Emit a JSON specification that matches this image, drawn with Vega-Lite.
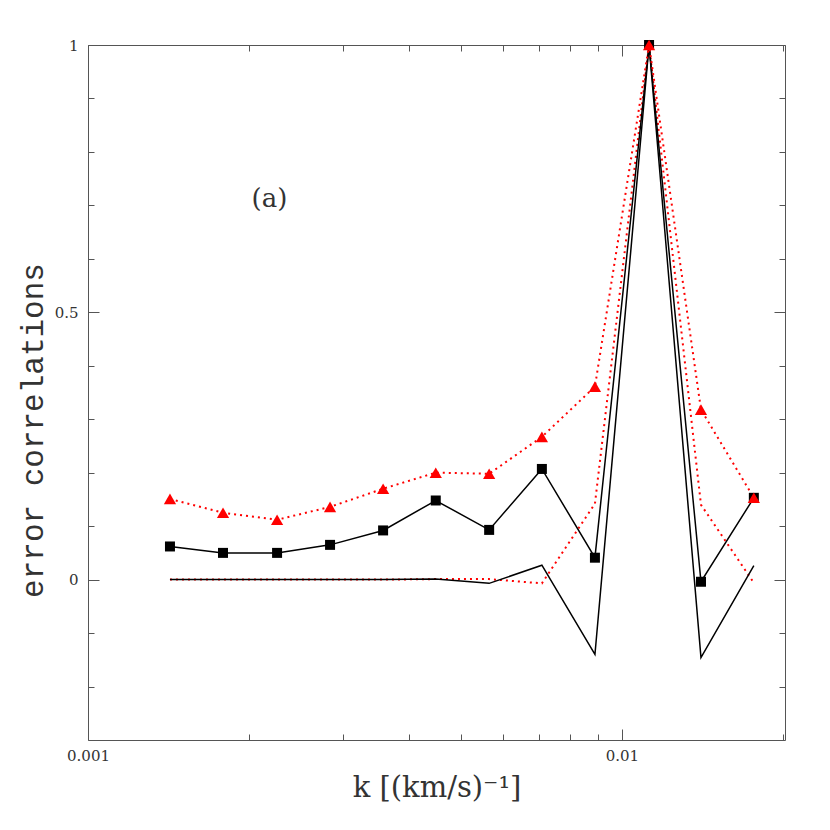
{
  "$schema": "https://vega.github.io/schema/vega-lite/v6.json",
  "width": 697,
  "height": 695,
  "autosize": {"type": "none"},
  "padding": {"left": 88, "top": 45, "right": 45, "bottom": 90},
  "background": "white",
  "config": {
    "view": {"stroke": "#555", "strokeWidth": 1},
    "axis": {
      "labelFont": "DejaVu Serif",
      "titleFont": "DejaVu Serif",
      "labelColor": "#333",
      "titleColor": "#333",
      "titleFontWeight": "normal",
      "tickColor": "#555",
      "tickWidth": 1,
      "domain": false,
      "grid": false,
      "labelFontSize": 15
    }
  },
  "datasets": {
    "d": [
      {"k": 0.001424, "v": 0.0, "s": "blk"},
      {"k": 0.00179, "v": 0.0, "s": "blk"},
      {"k": 0.00226, "v": 0.0, "s": "blk"},
      {"k": 0.00284, "v": 0.0, "s": "blk"},
      {"k": 0.00357, "v": 0.0, "s": "blk"},
      {"k": 0.00448, "v": 0.001, "s": "blk"},
      {"k": 0.00564, "v": -0.007, "s": "blk"},
      {"k": 0.00708, "v": 0.027, "s": "blk"},
      {"k": 0.0089, "v": -0.14, "s": "blk"},
      {"k": 0.01124, "v": 1.0, "s": "blk"},
      {"k": 0.01406, "v": -0.146, "s": "blk"},
      {"k": 0.01766, "v": 0.026, "s": "blk"},
      {"k": 0.001424, "v": 0.0, "s": "red"},
      {"k": 0.00179, "v": 0.0, "s": "red"},
      {"k": 0.00226, "v": 0.0, "s": "red"},
      {"k": 0.00284, "v": 0.0, "s": "red"},
      {"k": 0.00357, "v": 0.0, "s": "red"},
      {"k": 0.00448, "v": 0.001, "s": "red"},
      {"k": 0.00564, "v": 0.001, "s": "red"},
      {"k": 0.00708, "v": -0.007, "s": "red"},
      {"k": 0.0089, "v": 0.142, "s": "red"},
      {"k": 0.01124, "v": 1.0, "s": "red"},
      {"k": 0.01406, "v": 0.14, "s": "red"},
      {"k": 0.01766, "v": -0.006, "s": "red"},
      {"k": 0.001424, "v": 0.062, "s": "sq"},
      {"k": 0.00179, "v": 0.05, "s": "sq"},
      {"k": 0.00226, "v": 0.05, "s": "sq"},
      {"k": 0.00284, "v": 0.065, "s": "sq"},
      {"k": 0.00357, "v": 0.092, "s": "sq"},
      {"k": 0.00448, "v": 0.148, "s": "sq"},
      {"k": 0.00564, "v": 0.093, "s": "sq"},
      {"k": 0.00708, "v": 0.207, "s": "sq"},
      {"k": 0.0089, "v": 0.041, "s": "sq"},
      {"k": 0.01124, "v": 1.0, "s": "sq"},
      {"k": 0.01406, "v": -0.004, "s": "sq"},
      {"k": 0.01766, "v": 0.153, "s": "sq"},
      {"k": 0.001424, "v": 0.151, "s": "tri"},
      {"k": 0.00179, "v": 0.125, "s": "tri"},
      {"k": 0.00226, "v": 0.112, "s": "tri"},
      {"k": 0.00284, "v": 0.136, "s": "tri"},
      {"k": 0.00357, "v": 0.17, "s": "tri"},
      {"k": 0.00448, "v": 0.2, "s": "tri"},
      {"k": 0.00564, "v": 0.198, "s": "tri"},
      {"k": 0.00708, "v": 0.267, "s": "tri"},
      {"k": 0.0089, "v": 0.361, "s": "tri"},
      {"k": 0.01124, "v": 1.0, "s": "tri"},
      {"k": 0.01406, "v": 0.318, "s": "tri"},
      {"k": 0.01766, "v": 0.153, "s": "tri"}
    ]
  },
  "data": {"name": "d"},
  "resolve": {"axis": {"x": "independent", "y": "independent"}},
  "layer": [
    {
      "transform": [{"filter": "datum.s === 'red'"}],
      "mark": {"type": "line", "color": "#ff0000", "strokeWidth": 2, "strokeDash": [2, 4]},
      "encoding": {
        "x": {"field": "k", "type": "quantitative", "scale": {"type": "log", "domain": [0.001, 0.0202], "nice": false},
              "axis": {"orient": "bottom", "values": [0.001, 0.01], "format": "~g", "ticks": false, "tickSize": 0, "labelPadding": 8, "labelFlush": false, "labelFontSize": 15, "title": "k [(km/s)⁻¹]", "titleFontSize": 29, "titlePadding": 10}},
        "y": {"field": "v", "type": "quantitative", "scale": {"domain": [-0.3, 1], "nice": false, "zero": false},
              "axis": {"orient": "left", "values": [0, 0.5, 1], "format": "~g", "ticks": false, "tickSize": 0, "labelPadding": 10, "labelFlush": false, "labelFontSize": 15, "title": "error correlations", "titleFont": "Liberation Mono", "titleFontSize": 31, "titlePadding": 5, "titleY": 385}}
      }
    },
    {
      "transform": [{"filter": "datum.s === 'blk'"}],
      "mark": {"type": "line", "color": "#000000", "strokeWidth": 1.5},
      "encoding": {
        "x": {"field": "k", "type": "quantitative", "axis": {"orient": "bottom", "values": [0.001, 0.01], "tickSize": -11, "labels": false, "title": null}},
        "y": {"field": "v", "type": "quantitative", "axis": {"orient": "left", "values": [0, 0.5, 1], "tickSize": -11, "labels": false, "title": null}}
      }
    },
    {
      "transform": [{"filter": "datum.s === 'sq'"}],
      "mark": {"type": "line", "color": "#000000", "strokeWidth": 1.5},
      "encoding": {
        "x": {"field": "k", "type": "quantitative", "axis": {"orient": "bottom", "values": [0.002, 0.003, 0.004, 0.005, 0.006, 0.007, 0.008, 0.009, 0.02], "tickSize": -6, "labels": false, "title": null}},
        "y": {"field": "v", "type": "quantitative", "axis": {"orient": "left", "values": [-0.2, -0.1, 0.1, 0.2, 0.3, 0.4, 0.6, 0.7, 0.8, 0.9], "tickSize": -6, "labels": false, "title": null}}
      }
    },
    {
      "transform": [{"filter": "datum.s === 'tri'"}],
      "mark": {"type": "line", "color": "#ff0000", "strokeWidth": 2, "strokeDash": [2, 4]},
      "encoding": {
        "x": {"field": "k", "type": "quantitative", "axis": {"orient": "top", "values": [0.001, 0.01], "tickSize": -11, "labels": false, "title": null}},
        "y": {"field": "v", "type": "quantitative", "axis": {"orient": "right", "values": [0, 0.5, 1], "tickSize": -11, "labels": false, "title": null}}
      }
    },
    {
      "transform": [{"filter": "datum.s === 'sq'"}],
      "mark": {"type": "point", "shape": "square", "filled": true, "color": "#000000", "size": 100, "opacity": 1},
      "encoding": {
        "x": {"field": "k", "type": "quantitative", "axis": {"orient": "top", "values": [0.002, 0.003, 0.004, 0.005, 0.006, 0.007, 0.008, 0.009, 0.02], "tickSize": -6, "labels": false, "title": null}},
        "y": {"field": "v", "type": "quantitative", "axis": {"orient": "right", "values": [-0.2, -0.1, 0.1, 0.2, 0.3, 0.4, 0.6, 0.7, 0.8, 0.9], "tickSize": -6, "labels": false, "title": null}}
      }
    },
    {
      "transform": [{"filter": "datum.s === 'tri'"}],
      "mark": {"type": "point", "shape": "triangle-up", "filled": true, "color": "#ff0000", "size": 150, "opacity": 1},
      "encoding": {
        "x": {"field": "k", "type": "quantitative", "axis": null},
        "y": {"field": "v", "type": "quantitative", "axis": null}
      }
    },
    {
      "data": {"values": [{"label": "(a)", "k": 0.002187, "v": 0.712}]},
      "mark": {"type": "text", "font": "DejaVu Serif", "fontSize": 26, "color": "#333", "align": "center", "baseline": "middle"},
      "encoding": {
        "x": {"field": "k", "type": "quantitative", "axis": null},
        "y": {"field": "v", "type": "quantitative", "axis": null},
        "text": {"field": "label"}
      }
    }
  ]
}
